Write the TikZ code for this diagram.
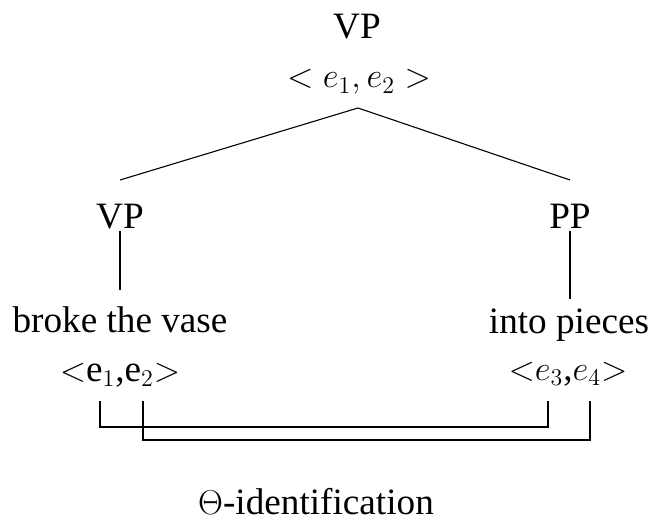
\documentclass[tikz,border=0pt]{standalone}
\usepackage{fontspec}
\setmainfont{Liberation Serif}
\begin{document}
\begin{tikzpicture}[x=0.5pt,y=-0.5pt,
  lbl/.style={inner sep=0pt,anchor=base,font=\fontsize{18.6}{22}\selectfont},
  edge/.style={line width=0.55pt,black}]
\useasboundingbox (0,0) rectangle (654,519);
\node[lbl] (vptop) at (357,39) {VP};
\node[lbl] (etop) at (359,88) {$<e_1,e_2>$};
\node[lbl] (vp) at (120,228) {VP};
\node[lbl] (pp) at (570,228) {PP};
\node[lbl] (broke) at (120,332) {broke the vase};
\node[lbl] (into) at (569,333) {into pieces};
\node[lbl] (eleft) at (120,381) {$<$e$_1$,e$_2$$>$};
\node[lbl] (eright) at (568,380) {$<$$e_3$,$e_4$$>$};
\node[lbl] (theta) at (316,514) {$\Theta$-identification};
% tree coordinates
\coordinate (apex) at (358,108);
\coordinate (vpn) at (120,180);
\coordinate (ppn) at (570,180);
\coordinate (vps) at (120,231);
\coordinate (pps) at (570,231);
\coordinate (brn) at (120,290);
\coordinate (inn) at (570,299);
\draw[edge] (vpn) -- (apex) -- (ppn);
\draw[edge] (vps) -- (brn);
\draw[edge] (pps) -- (inn);
% identification connectors
\coordinate (e1) at (100,401);
\coordinate (e2) at (143,401);
\coordinate (e3) at (548,401);
\coordinate (e4) at (590,401);
\draw[edge] (e1) |- (548,427) -- (e3);
\draw[edge] (e2) |- (590,440) -- (e4);
\end{tikzpicture}
\end{document}
